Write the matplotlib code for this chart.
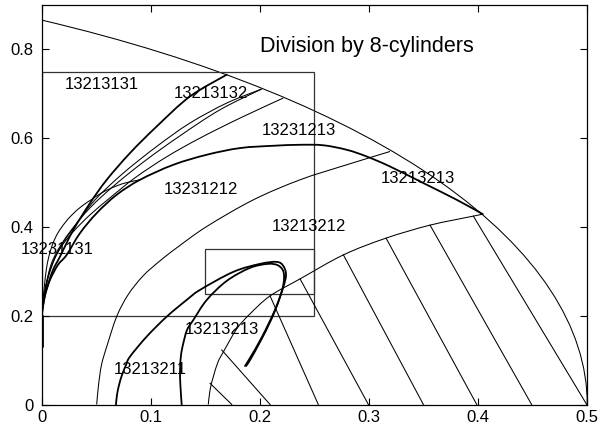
import matplotlib
matplotlib.use("Agg")
import matplotlib.pyplot as plt
from matplotlib.patches import Arc, Rectangle, PathPatch
from matplotlib.path import Path

plt.rcParams['font.family'] = ['Liberation Sans', 'DejaVu Sans']

# ---- region boundary (unit circle centred at (-1/2, 0)) ----
outer_center = (-0.5, 0.0)
outer_radius = 1.0
outer_theta = (0.0, 60.0)

# ---- rectangles: (x0, y0, x1, y1) ----
big_box = (0.0, 0.2, 0.25, 0.75)
small_box = (0.15, 0.25, 0.25, 0.35)

# ---- cylinder boundary curves fanning out of (0, 0.2) ----
c1_x = [0.0, 0.0021, 0.0058, 0.0104, 0.0168, 0.029, 0.0443, 0.0596, 0.0809, 0.1054, 0.1359, 0.1696]
c1_y = [0.2, 0.2356, 0.2694, 0.3033, 0.3333, 0.3935, 0.4537, 0.5062, 0.5664, 0.6264, 0.694, 0.743]

c2a_x = [0.0, 0.0026, 0.0067, 0.0122, 0.0195, 0.0305, 0.0489, 0.0748, 0.1054, 0.1359, 0.1696, 0.2016]
c2a_y = [0.2, 0.2469, 0.2920, 0.3303, 0.3641, 0.4025, 0.4611, 0.5213, 0.5813, 0.6341, 0.6791, 0.7107]

c2b_x = [0.0, 0.0016, 0.0039, 0.0085, 0.0149, 0.0259, 0.0443, 0.0672, 0.0947, 0.1268, 0.1634, 0.2016]
c2b_y = [0.2, 0.2356, 0.2694, 0.3145, 0.3484, 0.3889, 0.4431, 0.4949, 0.5490, 0.6054, 0.6640, 0.7107]

c4_x = [0.0, 0.0016, 0.0039, 0.0076, 0.0131, 0.0204, 0.0305, 0.0443, 0.0626, 0.0855, 0.1146,
        0.1451, 0.1818, 0.2214]
c4_y = [0.2, 0.2356, 0.2694, 0.3033, 0.3348, 0.3641, 0.3935, 0.4273, 0.4656, 0.5107, 0.5581,
        0.6002, 0.6453, 0.6904]

c5_x = [0.0, 0.003, 0.0076, 0.0149, 0.0229, 0.0351, 0.0504, 0.0687, 0.0901, 0.1206, 0.1512,
        0.1818, 0.2123, 0.2368, 0.2581, 0.2796, 0.2979, 0.3192, 0.3498, 0.3804, 0.4042]
c5_y = [0.2, 0.2469, 0.2807, 0.3145, 0.3371, 0.3860, 0.4311, 0.4724, 0.5062, 0.5400, 0.5626,
        0.5777, 0.5829, 0.5851, 0.5840, 0.5738, 0.5587, 0.5362, 0.4988, 0.4611, 0.4289]

c6_x = [0.0, 0.0012, 0.0026, 0.0042, 0.0067, 0.0104, 0.0149, 0.0211, 0.0278, 0.0363, 0.0452,
        0.0546, 0.0644, 0.0761, 0.0901]
c6_y = [0.2, 0.2356, 0.2694, 0.3033, 0.3348, 0.3635, 0.3867, 0.4086, 0.4273, 0.4460, 0.4611,
        0.4762, 0.4882, 0.4988, 0.5062]

stub_x = [0.001, 0.001]
stub_y = [0.2, 0.13]

# ---- arcs rising from the x-axis ----
d1_x = [0.0504, 0.0521, 0.0548, 0.0596, 0.0687, 0.0791, 0.0929, 0.1084, 0.1237, 0.1512, 0.1940,
        0.2368, 0.2780, 0.3192]
d1_y = [0.0, 0.0440, 0.0891, 0.1303, 0.1980, 0.2469, 0.2897, 0.3236, 0.3529, 0.4009, 0.4611,
        0.5062, 0.5389, 0.5700]

d2_x = [0.1527, 0.1543, 0.1573, 0.1616, 0.1665, 0.1787, 0.1909, 0.2093, 0.2368, 0.2765, 0.3156,
        0.3559, 0.3956, 0.4042]
d2_y = [0.0, 0.0327, 0.0627, 0.0958, 0.1184, 0.1702, 0.2041, 0.2446, 0.2830, 0.3371, 0.3748,
        0.4041, 0.4244, 0.4289]

# ---- folded curves forming the loop ----
e1_x = [0.0681, 0.0690, 0.0709, 0.0736, 0.0773, 0.0809, 0.0962, 0.1146, 0.1329, 0.1451, 0.1756,
        0.2001, 0.2154, 0.2214, 0.2239, 0.2212, 0.2138, 0.2019, 0.1909, 0.1863]
e1_y = [0.0, 0.0214, 0.0440, 0.0665, 0.0891, 0.1078, 0.1529, 0.1980, 0.2356, 0.2582, 0.2988,
        0.3168, 0.3213, 0.3123, 0.2920, 0.2627, 0.2131, 0.1522, 0.1048, 0.0868]

e2_x = [0.1283, 0.1271, 0.1268, 0.1277, 0.1298, 0.1332, 0.1390, 0.1513, 0.1696, 0.1909, 0.2074,
        0.2166, 0.2216, 0.2216, 0.2175, 0.2102, 0.2001, 0.1909, 0.1873]
e2_y = [0.0, 0.0440, 0.0778, 0.1116, 0.1380, 0.1680, 0.1905, 0.2356, 0.2785, 0.3078, 0.3168,
        0.3134, 0.2988, 0.2717, 0.2356, 0.1905, 0.1409, 0.0999, 0.0868]

# ---- hatching segments: (x_top, y_top) -> (x_bottom, y_bottom) ----
hatch_top_x = [0.1543, 0.1650, 0.2093, 0.2368, 0.2765, 0.3156, 0.3559, 0.3956]
hatch_top_y = [0.0478, 0.1229, 0.2446, 0.2830, 0.3371, 0.3748, 0.4041, 0.4244]
hatch_bot_x = [0.1742, 0.2093, 0.2535, 0.2994, 0.3498, 0.3987, 0.4490, 0.4995]
hatch_bot_y = [0.0, 0.0, 0.0, 0.0, 0.0, 0.0, 0.0, 0.0]

# ---- region labels ----
label_text = ["13213131", "13213132", "13231213", "13231212", "13213213",
              "13213212", "13231131", "13213213", "13213211"]
label_x = [0.0214, 0.1206, 0.2016, 0.1115, 0.3107, 0.2108, -0.0193, 0.1314, 0.0657]
label_y = [0.7204, 0.7017, 0.6172, 0.4837, 0.5088, 0.4009, 0.3483, 0.1680, 0.0778]

title_text = "Division by 8-cylinders"
title_pos = (0.2001, 0.8067)

xticks = [0, 0.1, 0.2, 0.3, 0.4, 0.5]
xtick_labels = ["0", "0.1", "0.2", "0.3", "0.4", "0.5"]
yticks = [0, 0.2, 0.4, 0.6, 0.8]
ytick_labels = ["0", "0.2", "0.4", "0.6", "0.8"]


def smooth_path(xs, ys):
    """Cubic Bezier path through the given points (Catmull-Rom tangents)."""
    pts = list(zip(xs, ys))
    n = len(pts)
    verts = [pts[0]]
    codes = [Path.MOVETO]
    for i in range(n - 1):
        p0 = pts[i - 1] if i > 0 else pts[i]
        p1 = pts[i]
        p2 = pts[i + 1]
        p3 = pts[i + 2] if i + 2 < n else pts[i + 1]
        c1 = (p1[0] + (p2[0] - p0[0]) / 6.0, p1[1] + (p2[1] - p0[1]) / 6.0)
        c2 = (p2[0] - (p3[0] - p1[0]) / 6.0, p2[1] - (p3[1] - p1[1]) / 6.0)
        verts += [c1, c2, p2]
        codes += [Path.CURVE4] * 3
    return Path(verts, codes)


fig = plt.figure(figsize=(6.05, 4.28), dpi=100)
ax = fig.add_axes([0.0689, 0.0549, 0.9018, 0.9334])
ax.set_xlim(0, 0.5)
ax.set_ylim(0, 0.9)

thin = 0.75
thick = 1.3

ax.add_patch(Arc(outer_center, 2 * outer_radius, 2 * outer_radius,
                 theta1=outer_theta[0], theta2=outer_theta[1], color='black', lw=thin))
for (x0, y0, x1, y1) in (big_box, small_box):
    ax.add_patch(Rectangle((x0, y0), x1 - x0, y1 - y0, fill=False,
                           edgecolor='#333333', lw=0.9))

for xs, ys in ((c2a_x, c2a_y), (c2b_x, c2b_y), (c4_x, c4_y), (c6_x, c6_y),
               (d1_x, d1_y), (d2_x, d2_y)):
    ax.add_patch(PathPatch(smooth_path(xs, ys), fill=False, edgecolor='black', lw=thin,
                           joinstyle='round'))
for xs, ys in ((c1_x, c1_y), (c5_x, c5_y), (e1_x, e1_y), (e2_x, e2_y)):
    ax.add_patch(PathPatch(smooth_path(xs, ys), fill=False, edgecolor='black', lw=thick,
                           joinstyle='round', capstyle='round'))
ax.plot(stub_x, stub_y, color='black', lw=thick, solid_capstyle='round')

for xt, yt, xb, yb in zip(hatch_top_x, hatch_top_y, hatch_bot_x, hatch_bot_y):
    ax.plot([xt, xb], [yt, yb], color='black', lw=thin)

for t, x, y in zip(label_text, label_x, label_y):
    ax.text(x, y, t, fontsize=12, ha='left', va='center', clip_on=False)
ax.text(title_pos[0], title_pos[1], title_text, fontsize=15.5, ha='left', va='center')

ax.set_xticks(xticks)
ax.set_xticklabels(xtick_labels)
ax.set_yticks(yticks)
ax.set_yticklabels(ytick_labels)
ax.tick_params(direction='in', top=True, right=True, length=5, width=0.8, labelsize=12)
ax.tick_params(axis='x', pad=4)
ax.tick_params(axis='y', pad=6)
for s in ax.spines.values():
    s.set_linewidth(0.9)

fig.savefig("out.png", dpi=100)
